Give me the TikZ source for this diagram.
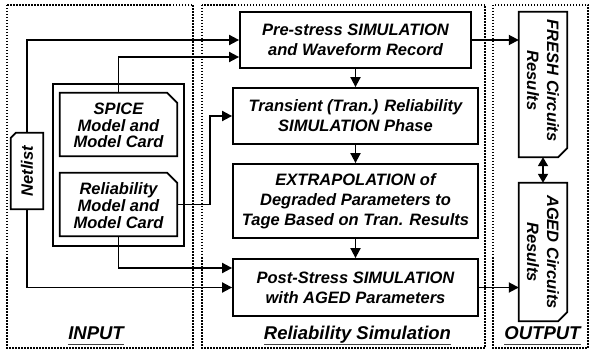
\documentclass[tikz,border=0pt]{standalone}
\usepackage{fontspec}
\setmainfont{Liberation Sans}
\usetikzlibrary{arrows.meta,calc}

\begin{document}
\begin{tikzpicture}[x=1pt,y=-1pt,
  txt/.style={font=\fontsize{16.5}{20}\selectfont\bfseries\itshape, align=center, inner sep=0pt},
  modeltxt/.style={font=\fontsize{16.5}{16.7}\selectfont\bfseries\itshape, align=center, inner sep=0pt},
  procbox/.style={txt, draw, line width=1.8pt, rectangle},
  blank/.style={rectangle, inner sep=0pt, draw=none},
  edge/.style={line width=1.8pt, line join=miter},
  arr/.style={edge, -{Triangle[length=10pt,width=10pt]}},
  biarr/.style={edge, {Triangle[length=9pt,width=10pt]}-{Triangle[length=9pt,width=10pt]}},
  group/.style={line width=1.5pt, dash pattern=on 1.5pt off 1.5pt},
  grouplabel/.style={font=\fontsize{18.5}{22}\selectfont\bfseries\itshape, inner sep=0pt, anchor=base},
  uline/.style={line width=1.5pt, black!75}
]
\useasboundingbox (0,0) rectangle (591,352);

% dotted group frames
\draw[group] (7,5) rectangle (193,348);
\draw[group] (202,5) rectangle (485,348);
\draw[group] (493,5) rectangle (588,348);

% simulation flow
\node[procbox, minimum width=231pt, minimum height=56pt] (prestress) at (355.5,40)
  {Pre-stress SIMULATION\\and Waveform Record};
\node[procbox, minimum width=245pt, minimum height=56pt] (trans) at (355.5,116)
  {Transient (Tran.) Reliability\\SIMULATION Phase};
\node[procbox, minimum width=245pt, minimum height=74pt] (extrap) at (355.5,201)
  {EXTRAPOLATION of\\Degraded Parameters to\\Tage Based on Tran. Results};
\node[procbox, minimum width=245pt, minimum height=57pt] (post) at (355.5,287.5)
  {Post-Stress SIMULATION\\with AGED Parameters};

% inputs
\node[blank, minimum width=32pt, minimum height=76pt] (netlist) at (27,171) {};
\draw[edge] ($(netlist.north west)+(0,-5pt)$) -- ($(netlist.north west)+(5pt,0)$)
  -- (netlist.north east) -- (netlist.south east) -- (netlist.south west) -- cycle;
\node[txt, rotate=90] (netlisttext) at (netlist.center) {Netlist};

\draw[edge] (53,84) rectangle (184,246);

\node[blank, minimum width=117pt, minimum height=63pt] (spice) at (118.5,124.5) {};
\draw[edge] (spice.north west) -- ($(spice.north east)+(-10pt,0)$)
  -- ($(spice.north east)+(0,-10pt)$) -- (spice.south east) -- (spice.south west) -- cycle;
\node[modeltxt] (spicetext) at ([yshift=-1pt]spice.center) {SPICE\\Model and\\Model Card};

\node[blank, minimum width=117pt, minimum height=63pt] (relmodel) at (118.5,204.5) {};
\draw[edge] (relmodel.north west) -- ($(relmodel.north east)+(-10pt,0)$)
  -- ($(relmodel.north east)+(0,-10pt)$) -- (relmodel.south east) -- (relmodel.south west) -- cycle;
\node[modeltxt] (reltext) at ([yshift=-1pt]relmodel.center) {Reliability\\Model and\\Model Card};

% outputs
\node[blank, minimum width=48pt, minimum height=145pt] (fresh) at (543,84.5) {};
\draw[edge] (fresh.north west) -- (fresh.north east) -- ($(fresh.south east)+(0,9pt)$)
  -- ($(fresh.south east)+(-9pt,0)$) -- (fresh.south west) -- cycle;
\node[txt, rotate=-90] (freshtext) at ([yshift=4pt]fresh.center) {FRESH Circuits\\Results};

\node[blank, minimum width=48pt, minimum height=138pt] (aged) at (543,252) {};
\draw[edge] (aged.north west) -- (aged.north east) -- ($(aged.south east)+(0,9pt)$)
  -- ($(aged.south east)+(-9pt,0)$) -- (aged.south west) -- cycle;
\node[txt, rotate=-90] (agedtext) at (aged.center) {AGED Circuits\\Results};

% connectors
\coordinate (bend) at (210,0);
\draw[arr] (netlist.north) |- (prestress.west);
\draw[arr] (spice.north) |- ([yshift=-17pt]prestress.west);
\draw[arr] (relmodel.east) -- (relmodel.east -| bend) |- (trans.west);
\draw[arr] (relmodel.south) |- ([yshift=19.5pt]post.west);
\draw[arr] (netlist.south) |- (post.west);
\draw[arr] (prestress) -- (trans);
\draw[arr] (trans) -- (extrap);
\draw[arr] (extrap) -- (post);
\draw[arr] (prestress.east) -- (prestress.east -| fresh.west);
\draw[arr] (post.east) -- (post.east -| aged.west);
\draw[biarr] (fresh.south) -- (aged.north);

% group titles
\node[grouplabel] (inlabel) at (96,339) {INPUT};
\node[grouplabel] (simlabel) at (357.5,339) {Reliability Simulation};
\node[grouplabel] (outlabel) at (542.5,339) {OUTPUT};
\draw[uline] (inlabel.west |- 0,344.5) -- (inlabel.east |- 0,344.5);
\draw[uline] (simlabel.west |- 0,344.5) -- (simlabel.east |- 0,344.5);
\draw[uline] (outlabel.west |- 0,344.5) -- (outlabel.east |- 0,344.5);
\end{tikzpicture}
\end{document}
